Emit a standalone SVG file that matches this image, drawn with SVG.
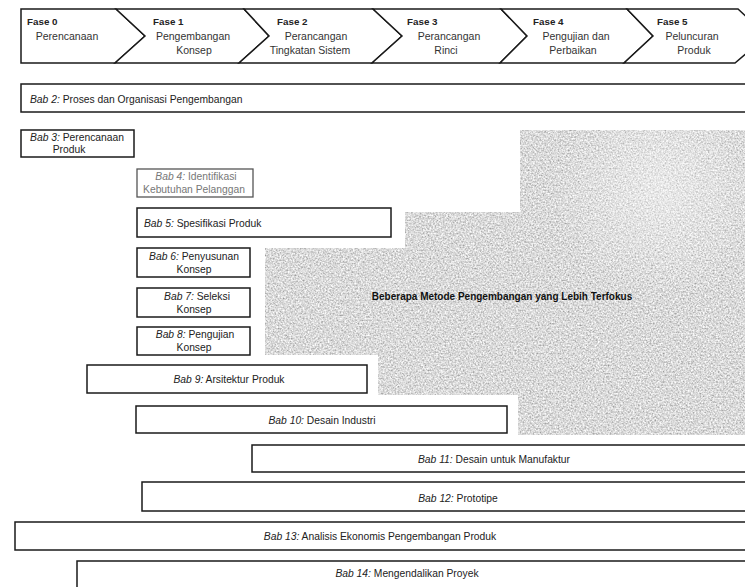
<svg xmlns="http://www.w3.org/2000/svg" width="745" height="587" viewBox="0 0 745 587">
<style>
text{font-family:"Liberation Sans",Arial,sans-serif;font-size:10.3px;fill:#222}
.h{font-size:10.5px;text-anchor:middle;fill:#333}
.f{font-weight:bold;font-size:9.8px}
.c{text-anchor:middle}
.i{font-style:italic}
.box{fill:#fff;stroke:#1a1a1a;stroke-width:1.5}
.chev{fill:#fff;stroke:#1a1a1a;stroke-width:1.5;stroke-linejoin:miter}
.faint{fill:#fff;stroke:#555;stroke-width:1.3}
.ft{fill:#777}
.focus{font-weight:bold;font-size:10px;text-anchor:middle;fill:#111}
</style>
<defs>
<filter id="grain" x="0" y="0" width="100%" height="100%" filterUnits="objectBoundingBox">
<feTurbulence type="fractalNoise" baseFrequency="0.6" numOctaves="2" seed="7" result="n"/>
<feColorMatrix in="n" type="matrix" values="1 0 0 0 0  1 0 0 0 0  1 0 0 0 0  0 0 0 0 1" result="g"/>
<feComponentTransfer in="g" result="gg">
<feFuncR type="linear" slope="1.0" intercept="0.2"/>
<feFuncG type="linear" slope="1.0" intercept="0.2"/>
<feFuncB type="linear" slope="1.0" intercept="0.2"/>
</feComponentTransfer>
<feComposite in="gg" in2="SourceGraphic" operator="in"/>
</filter>
<radialGradient id="light" cx="660" cy="190" r="110" gradientUnits="userSpaceOnUse">
<stop offset="0" stop-color="#fff" stop-opacity="0.4"/>
<stop offset="1" stop-color="#fff" stop-opacity="0"/>
</radialGradient>
<clipPath id="fclip"><path d="M520,130 H745 V435 H518 V395 H378 V355 H265 V248 H405 V212 H520 Z"/></clipPath>
</defs>
<rect width="745" height="587" fill="#fff"/>

<g id="phases">
<g id="fase0"><polygon class="chev" points="21,9 116,9 145,36 115,63 21,63"/>
<text x="27" y="25" class="f">Fase 0</text><text x="67" y="40" class="h">Perencanaan</text></g>
<g id="fase1"><polygon class="chev" points="116,9 244,9 269,36 239,63 115,63 145,36"/>
<text x="153" y="25" class="f">Fase 1</text><text x="193" y="40" class="h">Pengembangan</text><text x="194" y="54" class="h">Konsep</text></g>
<g id="fase2"><polygon class="chev" points="244,9 373,9 402,36 372,63 239,63 269,36"/>
<text x="277" y="25" class="f">Fase 2</text><text x="316" y="40" class="h">Perancangan</text><text x="310" y="54" class="h">Tingkatan Sistem</text></g>
<g id="fase3"><polygon class="chev" points="373,9 501,9 527,36 500,63 372,63 402,36"/>
<text x="407" y="25" class="f">Fase 3</text><text x="449" y="40" class="h">Perancangan</text><text x="446" y="54" class="h">Rinci</text></g>
<g id="fase4"><polygon class="chev" points="501,9 627,9 653,36 624,63 500,63 527,36"/>
<text x="533" y="25" class="f">Fase 4</text><text x="576" y="40" class="h">Pengujian dan</text><text x="573" y="54" class="h">Perbaikan</text></g>
<g id="fase5"><polygon class="chev" points="627,9 738,9 767,36 735,63 624,63 653,36"/>
<text x="657" y="25" class="f">Fase 5</text><text x="692" y="40" class="h">Peluncuran</text><text x="694" y="54" class="h">Produk</text></g>
</g>

<g id="focus">
<path d="M520,130 H745 V435 H518 V395 H378 V355 H265 V248 H405 V212 H520 Z" fill="#bbb" filter="url(#grain)"/>
<rect x="500" y="120" width="245" height="200" fill="url(#light)" clip-path="url(#fclip)"/>
<text x="502" y="300" class="focus">Beberapa Metode Pengembangan yang Lebih Terfokus</text>
</g>

<g id="bab2"><rect class="box" x="21" y="84" width="740" height="28"/>
<text x="30" y="103"><tspan class="i">Bab 2:</tspan> Proses dan Organisasi Pengembangan</text></g>
<g id="bab3"><rect class="box" x="21" y="130" width="113" height="27"/>
<text x="77" y="141" class="c"><tspan class="i">Bab 3:</tspan> Perencanaan</text><text x="69" y="153" class="c">Produk</text></g>
<g id="bab4"><rect class="faint" x="137" y="169" width="116" height="28"/>
<text x="196" y="180" class="c ft"><tspan class="i">Bab 4:</tspan> Identifikasi</text><text x="194" y="193" class="c ft">Kebutuhan Pelanggan</text></g>
<g id="bab5"><rect class="box" x="137" y="208" width="254" height="29"/>
<text x="144" y="227"><tspan class="i">Bab 5:</tspan> Spesifikasi Produk</text></g>
<g id="bab6"><rect class="box" x="137" y="248" width="113" height="29"/>
<text x="194" y="260" class="c"><tspan class="i">Bab 6:</tspan> Penyusunan</text><text x="194" y="273" class="c">Konsep</text></g>
<g id="bab7"><rect class="box" x="137" y="288" width="113" height="29"/>
<text x="197" y="300" class="c"><tspan class="i">Bab 7:</tspan> Seleksi</text><text x="194" y="313" class="c">Konsep</text></g>
<g id="bab8"><rect class="box" x="137" y="327" width="113" height="28"/>
<text x="195" y="338" class="c"><tspan class="i">Bab 8:</tspan> Pengujian</text><text x="194" y="351" class="c">Konsep</text></g>
<g id="bab9"><rect class="box" x="87" y="365" width="280" height="28"/>
<text x="229" y="383" class="c"><tspan class="i">Bab 9:</tspan> Arsitektur Produk</text></g>
<g id="bab10"><rect class="box" x="136" y="406" width="371" height="27"/>
<text x="322" y="424" class="c"><tspan class="i">Bab 10:</tspan> Desain Industri</text></g>
<g id="bab11"><rect class="box" x="252" y="445" width="510" height="27"/>
<text x="494" y="463" class="c"><tspan class="i">Bab 11:</tspan> Desain untuk Manufaktur</text></g>
<g id="bab12"><rect class="box" x="142" y="482" width="620" height="29"/>
<text x="458" y="502" class="c"><tspan class="i">Bab 12:</tspan> Prototipe</text></g>
<g id="bab13"><rect class="box" x="15" y="522" width="747" height="28"/>
<text x="380" y="540" class="c"><tspan class="i">Bab 13:</tspan> Analisis Ekonomis Pengembangan Produk</text></g>
<g id="bab14"><rect class="box" x="77" y="561" width="685" height="40"/>
<text x="407" y="577" class="c"><tspan class="i">Bab 14:</tspan> Mengendalikan Proyek</text></g>
<g id="connectors"/>
</svg>
